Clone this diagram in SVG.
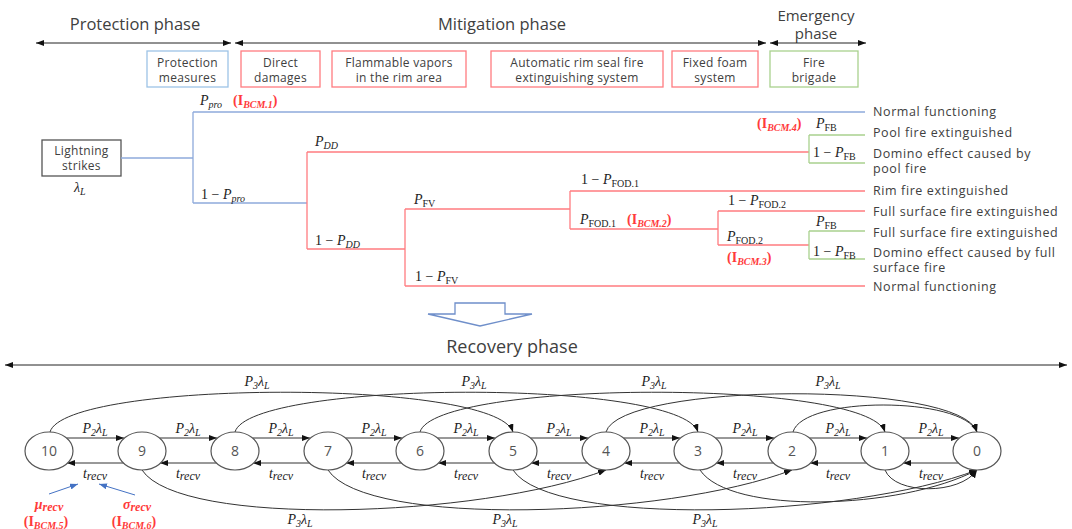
<svg xmlns="http://www.w3.org/2000/svg" width="1072" height="529" viewBox="0 0 1072 529">
<defs>
<style>
.t{font-family:"Open Sans","Noto Sans",sans-serif;fill:#404040}
.h{font-size:16.5px}
.b{font-size:12px;text-anchor:middle;letter-spacing:0.3px}
.o{font-size:12.5px;letter-spacing:0.6px}
.n{font-size:14px;text-anchor:middle;fill:#555}
.m{font-family:"Liberation Serif",serif;font-style:italic;font-size:14px;fill:#222}
.c{text-anchor:middle}
.r{fill:#ff3b3b;font-weight:bold}
.s{font-size:10px}
.u{font-style:normal}
.ln{fill:none;stroke-width:1.3}
.bl{stroke:#8eaadb}
.rd{stroke:#ff7c80}
.gr{stroke:#a9d18e}
.ph{fill:none;stroke:#222;stroke-width:1}
.nd{fill:#fff;stroke:#555;stroke-width:1.2}
</style>
<marker id="a" viewBox="0 0 8 6" refX="8" refY="3" markerWidth="8" markerHeight="6" markerUnits="userSpaceOnUse" orient="auto-start-reverse"><path d="M0,0 L8,3 L0,6 z" fill="#111"/></marker>
<marker id="ab" viewBox="0 0 8 6" refX="8" refY="3" markerWidth="8" markerHeight="6" markerUnits="userSpaceOnUse" orient="auto"><path d="M0,0 L8,3 L0,6 z" fill="#4472c4"/></marker>
</defs>
<rect width="1072" height="529" fill="#fff"/>

<g id="phases">
<text class="t h" x="135" y="30" text-anchor="middle">Protection phase</text>
<text class="t h" x="502" y="30" text-anchor="middle">Mitigation phase</text>
<text class="t" x="816" y="21" font-size="15" text-anchor="middle">Emergency</text>
<text class="t" x="816" y="39" font-size="15" text-anchor="middle">phase</text>
<path class="ph" d="M36,43 L231,43" marker-start="url(#a)" marker-end="url(#a)"/>
<path class="ph" d="M235,43 L766,43" marker-start="url(#a)" marker-end="url(#a)"/>
<path class="ph" d="M770,43 L866,43" marker-start="url(#a)" marker-end="url(#a)"/>
</g>

<g id="box-protection"><rect x="147" y="51" width="81" height="36" fill="none" stroke="#9dc3e6" stroke-width="1.3"/><text class="t b" x="187.5" y="67">Protection</text><text class="t b" x="187.5" y="82">measures</text></g>
<g id="box-direct"><rect x="241" y="51" width="79" height="36" fill="none" stroke="#ff7c80" stroke-width="1.3"/><text class="t b" x="280.5" y="67">Direct</text><text class="t b" x="280.5" y="82">damages</text></g>
<g id="box-vapors"><rect x="332" y="51" width="134" height="36" fill="none" stroke="#ff7c80" stroke-width="1.3"/><text class="t b" x="399" y="67">Flammable vapors</text><text class="t b" x="399" y="82">in the rim area</text></g>
<g id="box-rimseal"><rect x="491" y="51" width="172" height="36" fill="none" stroke="#ff7c80" stroke-width="1.3"/><text class="t b" x="577" y="67">Automatic rim seal fire</text><text class="t b" x="577" y="82">extinguishing system</text></g>
<g id="box-foam"><rect x="672" y="51" width="86" height="36" fill="none" stroke="#ff7c80" stroke-width="1.3"/><text class="t b" x="715" y="67">Fixed foam</text><text class="t b" x="715" y="82">system</text></g>
<g id="box-brigade"><rect x="770" y="51" width="88" height="36" fill="none" stroke="#a9d18e" stroke-width="1.3"/><text class="t b" x="814" y="67">Fire</text><text class="t b" x="814" y="82">brigade</text></g>

<g id="lightning"><rect x="42" y="140" width="79" height="36" fill="none" stroke="#555" stroke-width="1.3"/><text class="t b" x="81.5" y="155">Lightning</text><text class="t b" x="81.5" y="170">strikes</text>
<text class="m" x="74" y="192">λ<tspan class="s" dy="3">L</tspan></text></g>

<g id="tree-connectors">
<path class="ln bl" d="M121,158 H193 M193,112 V203 M193,112 H865 M193,203 H307"/>
<path class="ln rd" d="M307,152 V249 M307,152 H809 M307,249 H405 M405,209 V286 M405,209 H570 M405,286 H865 M570,191 V229 M570,191 H865 M570,229 H718 M718,211 V245 M718,211 H865 M718,245 H809"/>
<path class="ln gr" d="M809,135 V163 M809,135 H865 M809,163 H865 M809,231 V259 M809,231 H865 M809,259 H865"/>
</g>

<g id="tree-labels">
<text class="m" x="200" y="105">P<tspan class="s" dy="3">pro</tspan></text>
<text class="m r" x="233" y="105"><tspan class="u">(I</tspan><tspan class="s" dy="3">BCM.1</tspan><tspan class="u" dy="-3">)</tspan></text>
<text class="m" x="201" y="199"><tspan class="u">1 − </tspan>P<tspan class="s" dy="3">pro</tspan></text>
<text class="m" x="315" y="146">P<tspan class="s" dy="3">DD</tspan></text>
<text class="m" x="315" y="245"><tspan class="u">1 − </tspan>P<tspan class="s" dy="3">DD</tspan></text>
<text class="m" x="414" y="204">P<tspan class="s u" dy="3">FV</tspan></text>
<text class="m" x="415" y="281"><tspan class="u">1 − </tspan>P<tspan class="s u" dy="3">FV</tspan></text>
<text class="m" x="581" y="184"><tspan class="u">1 − </tspan>P<tspan class="s u" dy="3">FOD.1</tspan></text>
<text class="m" x="580" y="224">P<tspan class="s u" dy="3">FOD.1</tspan></text>
<text class="m r" x="627" y="224"><tspan class="u">(I</tspan><tspan class="s" dy="3">BCM.2</tspan><tspan class="u" dy="-3">)</tspan></text>
<text class="m" x="728" y="205"><tspan class="u">1 − </tspan>P<tspan class="s u" dy="3">FOD.2</tspan></text>
<text class="m" x="727" y="241">P<tspan class="s u" dy="3">FOD.2</tspan></text>
<text class="m r" x="727" y="262"><tspan class="u">(I</tspan><tspan class="s" dy="3">BCM.3</tspan><tspan class="u" dy="-3">)</tspan></text>
<text class="m r" x="757" y="128"><tspan class="u">(I</tspan><tspan class="s" dy="3">BCM.4</tspan><tspan class="u" dy="-3">)</tspan></text>
<text class="m" x="816" y="128">P<tspan class="s u" dy="3">FB</tspan></text>
<text class="m" x="813" y="157"><tspan class="u">1 − </tspan>P<tspan class="s u" dy="3">FB</tspan></text>
<text class="m" x="816" y="226">P<tspan class="s u" dy="3">FB</tspan></text>
<text class="m" x="813" y="256"><tspan class="u">1 − </tspan>P<tspan class="s u" dy="3">FB</tspan></text>
</g>

<g id="outcomes">
<text class="t o" x="873" y="116">Normal functioning</text>
<text class="t o" x="873" y="137">Pool fire extinguished</text>
<text class="t o" x="873" y="158">Domino effect caused by</text>
<text class="t o" x="873" y="173">pool fire</text>
<text class="t o" x="873" y="195">Rim fire extinguished</text>
<text class="t o" x="873" y="216">Full surface fire extinguished</text>
<text class="t o" x="873" y="237">Full surface fire extinguished</text>
<text class="t o" x="873" y="257">Domino effect caused by full</text>
<text class="t o" x="873" y="272">surface fire</text>
<text class="t o" x="873" y="291">Normal functioning</text>
</g>

<g id="transition-arrow">
<path d="M455,303 H505 V314 H532 L480,326 L428,314 H455 Z" fill="none" stroke="#6f8fca" stroke-width="1.3"/>
<text class="t" x="512" y="353" font-size="18" text-anchor="middle">Recovery phase</text>
<path class="ph" d="M5,365 L1067,365" marker-start="url(#a)" marker-end="url(#a)"/>
</g>

<g id="markov-connectors" fill="none" stroke="#333" stroke-width="1">
<path d="M67,438 H124" marker-end="url(#a)"/>
<path d="M160,438 H217" marker-end="url(#a)"/>
<path d="M253,438 H310" marker-end="url(#a)"/>
<path d="M346,438 H402" marker-end="url(#a)"/>
<path d="M438,438 H495" marker-end="url(#a)"/>
<path d="M531,438 H588" marker-end="url(#a)"/>
<path d="M624,438 H680" marker-end="url(#a)"/>
<path d="M716,438 H774" marker-end="url(#a)"/>
<path d="M810,438 H867" marker-end="url(#a)"/>
<path d="M903,438 H959" marker-end="url(#a)"/>
<path d="M124,463 H67" marker-end="url(#a)"/>
<path d="M217,463 H160" marker-end="url(#a)"/>
<path d="M310,463 H253" marker-end="url(#a)"/>
<path d="M402,463 H346" marker-end="url(#a)"/>
<path d="M495,463 H438" marker-end="url(#a)"/>
<path d="M588,463 H531" marker-end="url(#a)"/>
<path d="M680,463 H624" marker-end="url(#a)"/>
<path d="M774,463 H716" marker-end="url(#a)"/>
<path d="M867,463 H810" marker-end="url(#a)"/>
<path d="M959,463 H903" marker-end="url(#a)"/>
<path d="M50,432 C65,380 495,378 513,432" marker-end="url(#a)"/>
<path d="M235,432 C250,380 680,378 698,432" marker-end="url(#a)"/>
<path d="M420,432 C435,380 867,378 885,432" marker-end="url(#a)"/>
<path d="M606,432 C620,382 962,380 977,432" marker-end="url(#a)"/>
<path d="M793,432 C803,396 962,396 977,432" marker-end="url(#a)"/>
<path d="M142,470 C180,528 480,518 606,470" marker-end="url(#a)"/>
<path d="M328,470 C366,528 666,518 792,470" marker-end="url(#a)"/>
<path d="M513,470 C551,528 851,518 977,470" marker-end="url(#a)"/>
<path d="M700,470 C730,515 900,510 977,470" marker-end="url(#a)"/>
<path d="M885,470 C895,495 960,495 977,470" marker-end="url(#a)"/>
<path d="M49,494 L78,484" stroke="#4472c4" marker-end="url(#ab)"/>
<path d="M135,495 L99,484" stroke="#4472c4" marker-end="url(#ab)"/>
</g>

<g id="markov-labels">
<text class="m c" x="95" y="433">P<tspan class="s" dy="3">2</tspan><tspan dy="-3">λ</tspan><tspan class="s" dy="3">L</tspan></text>
<text class="m c" x="188" y="433">P<tspan class="s" dy="3">2</tspan><tspan dy="-3">λ</tspan><tspan class="s" dy="3">L</tspan></text>
<text class="m c" x="281" y="433">P<tspan class="s" dy="3">2</tspan><tspan dy="-3">λ</tspan><tspan class="s" dy="3">L</tspan></text>
<text class="m c" x="374" y="433">P<tspan class="s" dy="3">2</tspan><tspan dy="-3">λ</tspan><tspan class="s" dy="3">L</tspan></text>
<text class="m c" x="466" y="433">P<tspan class="s" dy="3">2</tspan><tspan dy="-3">λ</tspan><tspan class="s" dy="3">L</tspan></text>
<text class="m c" x="559" y="433">P<tspan class="s" dy="3">2</tspan><tspan dy="-3">λ</tspan><tspan class="s" dy="3">L</tspan></text>
<text class="m c" x="652" y="433">P<tspan class="s" dy="3">2</tspan><tspan dy="-3">λ</tspan><tspan class="s" dy="3">L</tspan></text>
<text class="m c" x="745" y="433">P<tspan class="s" dy="3">2</tspan><tspan dy="-3">λ</tspan><tspan class="s" dy="3">L</tspan></text>
<text class="m c" x="838" y="433">P<tspan class="s" dy="3">2</tspan><tspan dy="-3">λ</tspan><tspan class="s" dy="3">L</tspan></text>
<text class="m c" x="931" y="433">P<tspan class="s" dy="3">2</tspan><tspan dy="-3">λ</tspan><tspan class="s" dy="3">L</tspan></text>
<text class="m c" x="95" y="478">t<tspan font-size="12" dy="2">recv</tspan></text>
<text class="m c" x="188" y="478">t<tspan font-size="12" dy="2">recv</tspan></text>
<text class="m c" x="281" y="478">t<tspan font-size="12" dy="2">recv</tspan></text>
<text class="m c" x="374" y="478">t<tspan font-size="12" dy="2">recv</tspan></text>
<text class="m c" x="466" y="478">t<tspan font-size="12" dy="2">recv</tspan></text>
<text class="m c" x="559" y="478">t<tspan font-size="12" dy="2">recv</tspan></text>
<text class="m c" x="652" y="478">t<tspan font-size="12" dy="2">recv</tspan></text>
<text class="m c" x="745" y="478">t<tspan font-size="12" dy="2">recv</tspan></text>
<text class="m c" x="838" y="478">t<tspan font-size="12" dy="2">recv</tspan></text>
<text class="m c" x="931" y="478">t<tspan font-size="12" dy="2">recv</tspan></text>
<text class="m c" x="257" y="386">P<tspan class="s" dy="3">3</tspan><tspan dy="-3">λ</tspan><tspan class="s" dy="3">L</tspan></text>
<text class="m c" x="474" y="386">P<tspan class="s" dy="3">3</tspan><tspan dy="-3">λ</tspan><tspan class="s" dy="3">L</tspan></text>
<text class="m c" x="654" y="386">P<tspan class="s" dy="3">3</tspan><tspan dy="-3">λ</tspan><tspan class="s" dy="3">L</tspan></text>
<text class="m c" x="828" y="386">P<tspan class="s" dy="3">3</tspan><tspan dy="-3">λ</tspan><tspan class="s" dy="3">L</tspan></text>
<text class="m c" x="300" y="524">P<tspan class="s" dy="3">3</tspan><tspan dy="-3">λ</tspan><tspan class="s" dy="3">L</tspan></text>
<text class="m c" x="505" y="524">P<tspan class="s" dy="3">3</tspan><tspan dy="-3">λ</tspan><tspan class="s" dy="3">L</tspan></text>
<text class="m c" x="705" y="524">P<tspan class="s" dy="3">3</tspan><tspan dy="-3">λ</tspan><tspan class="s" dy="3">L</tspan></text>
<text class="m c r" x="49" y="509">μ<tspan font-size="12" dy="2">recv</tspan></text>
<text class="m c r" x="46" y="526"><tspan class="u">(I</tspan><tspan class="s" dy="3">BCM.5</tspan><tspan class="u" dy="-3">)</tspan></text>
<text class="m c r" x="137" y="509">σ<tspan font-size="12" dy="2">recv</tspan></text>
<text class="m c r" x="134" y="526"><tspan class="u">(I</tspan><tspan class="s" dy="3">BCM.6</tspan><tspan class="u" dy="-3">)</tspan></text>
</g>

<g id="s10"><ellipse class="nd" cx="49" cy="451" rx="24" ry="19"/><text class="t n" x="49" y="456">10</text></g>
<g id="s9"><ellipse class="nd" cx="142" cy="451" rx="24" ry="19"/><text class="t n" x="142" y="456">9</text></g>
<g id="s8"><ellipse class="nd" cx="235" cy="451" rx="24" ry="19"/><text class="t n" x="235" y="456">8</text></g>
<g id="s7"><ellipse class="nd" cx="328" cy="451" rx="24" ry="19"/><text class="t n" x="328" y="456">7</text></g>
<g id="s6"><ellipse class="nd" cx="420" cy="451" rx="24" ry="19"/><text class="t n" x="420" y="456">6</text></g>
<g id="s5"><ellipse class="nd" cx="513" cy="451" rx="24" ry="19"/><text class="t n" x="513" y="456">5</text></g>
<g id="s4"><ellipse class="nd" cx="606" cy="451" rx="24" ry="19"/><text class="t n" x="606" y="456">4</text></g>
<g id="s3"><ellipse class="nd" cx="698" cy="451" rx="24" ry="19"/><text class="t n" x="698" y="456">3</text></g>
<g id="s2"><ellipse class="nd" cx="792" cy="451" rx="24" ry="19"/><text class="t n" x="792" y="456">2</text></g>
<g id="s1"><ellipse class="nd" cx="885" cy="451" rx="24" ry="19"/><text class="t n" x="885" y="456">1</text></g>
<g id="s0"><ellipse class="nd" cx="977" cy="451" rx="24" ry="19"/><text class="t n" x="977" y="456">0</text></g>
</svg>
